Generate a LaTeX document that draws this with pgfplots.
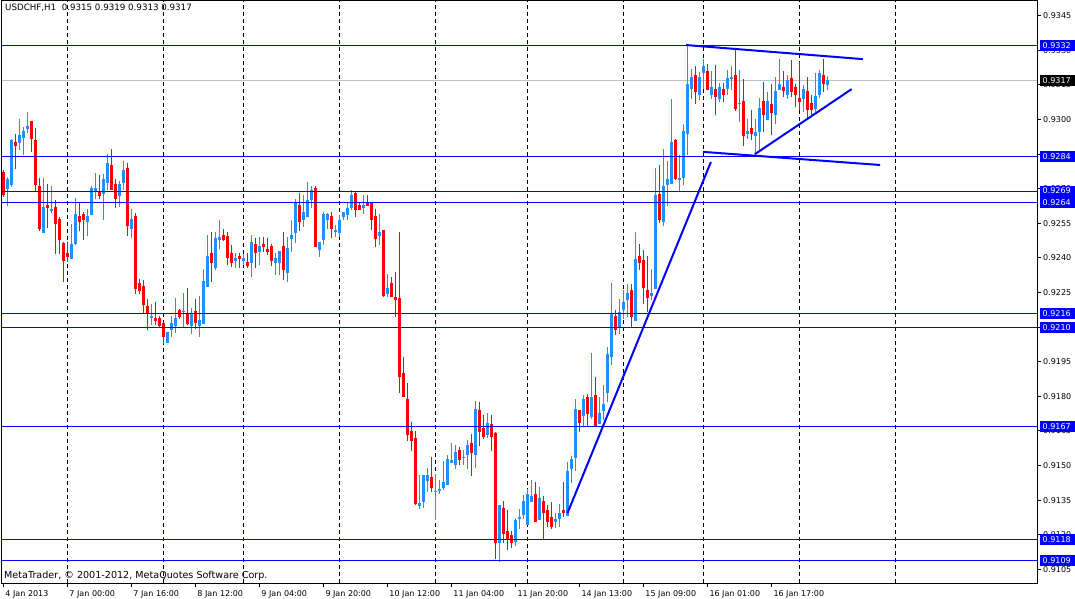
\documentclass[border=0pt]{standalone}
\usepackage{fontspec}
\setmainfont{DejaVu Sans}
\usepackage{pgfplots}
\usepackage{pgfplotstable}
\pgfplotsset{compat=1.18}
\definecolor{bullc}{RGB}{30,144,255}
\definecolor{bearc}{RGB}{255,0,0}
\definecolor{linec}{RGB}{0,0,255}
\definecolor{bidc}{RGB}{192,192,192}

\pgfplotstableread{
x o h l c
1 0.92699 0.92752 0.92625 0.92742
2 0.92716 0.92918 0.92709 0.92911
4 0.92899 0.93002 0.92868 0.92933
5 0.92918 0.92969 0.92846 0.92950
6 0.92959 0.93031 0.92940 0.92972
10 0.92509 0.92749 0.92509 0.92621
12 0.92609 0.92712 0.92598 0.92613
17 0.92395 0.92550 0.92395 0.92460
18 0.92463 0.92660 0.92456 0.92590
21 0.92557 0.92612 0.92495 0.92583
22 0.92586 0.92712 0.92586 0.92703
23 0.92687 0.92772 0.92655 0.92703
25 0.92677 0.92764 0.92564 0.92742
26 0.92726 0.92850 0.92697 0.92813
29 0.92668 0.92735 0.92622 0.92720
30 0.92726 0.92820 0.92697 0.92781
32 0.92528 0.92612 0.92488 0.92569
37 0.92145 0.92200 0.92113 0.92149
41 0.92034 0.92080 0.92030 0.92080
42 0.92087 0.92148 0.92058 0.92118
43 0.92105 0.92226 0.92073 0.92140
45 0.92167 0.92248 0.92102 0.92171
47 0.92105 0.92182 0.92069 0.92160
49 0.92105 0.92236 0.92058 0.92131
50 0.92113 0.92352 0.92112 0.92300
51 0.92275 0.92499 0.92275 0.92408
53 0.92358 0.92512 0.92348 0.92489
54 0.92478 0.92567 0.92439 0.92492
58 0.92387 0.92423 0.92358 0.92401
60 0.92387 0.92420 0.92369 0.92401
62 0.92379 0.92499 0.92319 0.92470
64 0.92424 0.92489 0.92369 0.92452
68 0.92378 0.92423 0.92326 0.92400
69 0.92379 0.92430 0.92329 0.92430
71 0.92336 0.92492 0.92297 0.92442
72 0.92485 0.92564 0.92427 0.92499
73 0.92507 0.92658 0.92466 0.92644
75 0.92564 0.92673 0.92535 0.92600
76 0.92579 0.92728 0.92579 0.92651
77 0.92654 0.92713 0.92615 0.92694
79 0.92434 0.92470 0.92405 0.92470
80 0.92478 0.92600 0.92456 0.92593
81 0.92564 0.92596 0.92528 0.92593
83 0.92517 0.92543 0.92492 0.92521
84 0.92509 0.92586 0.92492 0.92567
85 0.92579 0.92600 0.92564 0.92600
86 0.92586 0.92637 0.92564 0.92615
87 0.92618 0.92694 0.92608 0.92673
90 0.92618 0.92673 0.92593 0.92632
94 0.92496 0.92593 0.92456 0.92514
96 0.92244 0.92330 0.92232 0.92271
104 0.91326 0.91459 0.91312 0.91339
105 0.91343 0.91459 0.91315 0.91459
106 0.91434 0.91492 0.91386 0.91459
108 0.91386 0.91466 0.91264 0.91391
109 0.91394 0.91440 0.91377 0.91399
110 0.91404 0.91521 0.91394 0.91429
111 0.91416 0.91549 0.91416 0.91528
112 0.91514 0.91596 0.91510 0.91524
113 0.91502 0.91589 0.91488 0.91560
115 0.91534 0.91567 0.91502 0.91538
116 0.91546 0.91611 0.91488 0.91589
118 0.91546 0.91781 0.91488 0.91748
121 0.91632 0.91726 0.91618 0.91687
124 0.91165 0.91329 0.91085 0.91329
128 0.91170 0.91271 0.91151 0.91267
129 0.91271 0.91315 0.91228 0.91276
130 0.91285 0.91375 0.91271 0.91346
131 0.91242 0.91397 0.91242 0.91377
132 0.91343 0.91437 0.91343 0.91368
134 0.91264 0.91408 0.91264 0.91360
138 0.91256 0.91293 0.91228 0.91267
139 0.91271 0.91332 0.91235 0.91297
141 0.91285 0.91517 0.91285 0.91478
142 0.91488 0.91541 0.91425 0.91528
143 0.91536 0.91787 0.91478 0.91748
145 0.91715 0.91806 0.91668 0.91788
147 0.91712 0.91986 0.91700 0.91798
149 0.91683 0.91798 0.91680 0.91729
150 0.91738 0.91849 0.91697 0.91770
151 0.91813 0.92012 0.91777 0.91986
152 0.91972 0.92293 0.91936 0.92160
154 0.92102 0.92221 0.92073 0.92167
155 0.92174 0.92261 0.92138 0.92208
156 0.92218 0.92290 0.92145 0.92247
158 0.92128 0.92514 0.92128 0.92398
162 0.92235 0.92351 0.92218 0.92247
163 0.92268 0.92788 0.92268 0.92673
165 0.92557 0.92875 0.92538 0.92712
166 0.92716 0.92821 0.92626 0.92741
167 0.92723 0.93092 0.92723 0.92904
169 0.92741 0.92846 0.92687 0.92745
170 0.92749 0.92983 0.92716 0.92950
171 0.92937 0.93323 0.92846 0.93153
172 0.93135 0.93222 0.93092 0.93186
174 0.93106 0.93207 0.93085 0.93186
175 0.93200 0.93265 0.93135 0.93232
177 0.93106 0.93210 0.93089 0.93142
179 0.93089 0.93157 0.93077 0.93142
181 0.93135 0.93215 0.93106 0.93179
182 0.93181 0.93232 0.93128 0.93186
184 0.93068 0.93215 0.92990 0.93073
186 0.92936 0.93005 0.92918 0.92950
188 0.92930 0.93005 0.92853 0.92944
189 0.92947 0.93092 0.92868 0.93049
191 0.92998 0.93120 0.92998 0.93080
193 0.93020 0.93186 0.92983 0.93124
194 0.93128 0.93262 0.93128 0.93153
196 0.93106 0.93196 0.93092 0.93171
200 0.93089 0.93150 0.93034 0.93132
203 0.93045 0.93200 0.93034 0.93102
204 0.93106 0.93215 0.93092 0.93203
206 0.93150 0.93190 0.93130 0.93170
}\bulltab

\pgfplotstableread{
x o h l c
0 0.92774 0.92781 0.92665 0.92673
3 0.92904 0.92940 0.92785 0.92886
7 0.92993 0.92993 0.92860 0.92918
8 0.92911 0.92962 0.92687 0.92716
9 0.92712 0.92749 0.92518 0.92525
11 0.92629 0.92720 0.92528 0.92618
13 0.92621 0.92651 0.92417 0.92547
14 0.92569 0.92580 0.92417 0.92479
15 0.92468 0.92470 0.92297 0.92388
16 0.92421 0.92468 0.92384 0.92404
19 0.92583 0.92642 0.92517 0.92557
20 0.92590 0.92600 0.92478 0.92564
24 0.92691 0.92759 0.92654 0.92670
27 0.92803 0.92872 0.92697 0.92697
28 0.92720 0.92742 0.92618 0.92655
31 0.92788 0.92810 0.92496 0.92540
33 0.92582 0.92595 0.92244 0.92265
34 0.92291 0.92309 0.92244 0.92257
35 0.92278 0.92304 0.92160 0.92196
36 0.92192 0.92222 0.92087 0.92164
38 0.92140 0.92208 0.92109 0.92126
39 0.92140 0.92148 0.92102 0.92106
40 0.92118 0.92123 0.92027 0.92058
44 0.92178 0.92178 0.92138 0.92145
46 0.92160 0.92270 0.92109 0.92113
48 0.92170 0.92221 0.92095 0.92117
52 0.92420 0.92514 0.92297 0.92377
55 0.92499 0.92528 0.92475 0.92478
56 0.92496 0.92511 0.92369 0.92403
57 0.92421 0.92456 0.92362 0.92379
59 0.92410 0.92423 0.92359 0.92397
61 0.92382 0.92423 0.92359 0.92366
63 0.92460 0.92488 0.92359 0.92420
65 0.92460 0.92492 0.92427 0.92449
66 0.92439 0.92489 0.92416 0.92426
67 0.92452 0.92460 0.92366 0.92388
70 0.92452 0.92514 0.92304 0.92348
74 0.92629 0.92680 0.92517 0.92557
78 0.92704 0.92713 0.92449 0.92449
82 0.92582 0.92600 0.92485 0.92528
88 0.92684 0.92691 0.92579 0.92608
89 0.92629 0.92641 0.92608 0.92608
91 0.92644 0.92673 0.92625 0.92625
92 0.92641 0.92644 0.92521 0.92564
93 0.92582 0.92615 0.92449 0.92485
95 0.92521 0.92521 0.92232 0.92235
97 0.92293 0.92319 0.92232 0.92232
98 0.92232 0.92340 0.92145 0.92218
99 0.92229 0.92514 0.91816 0.91885
100 0.91902 0.91972 0.91796 0.91796
101 0.91788 0.91859 0.91608 0.91632
102 0.91651 0.91690 0.91564 0.91608
103 0.91621 0.91650 0.91329 0.91333
107 0.91449 0.91538 0.91386 0.91404
114 0.91567 0.91579 0.91502 0.91524
117 0.91596 0.91637 0.91456 0.91556
119 0.91741 0.91774 0.91585 0.91647
120 0.91661 0.91719 0.91618 0.91625
122 0.91679 0.91719 0.91564 0.91625
123 0.91640 0.91647 0.91095 0.91165
125 0.91317 0.91346 0.91163 0.91203
126 0.91217 0.91307 0.91134 0.91180
127 0.91199 0.91217 0.91141 0.91165
133 0.91377 0.91430 0.91256 0.91256
135 0.91346 0.91368 0.91177 0.91295
136 0.91307 0.91329 0.91235 0.91256
137 0.91278 0.91343 0.91224 0.91235
140 0.91307 0.91430 0.91278 0.91295
144 0.91741 0.91741 0.91647 0.91686
146 0.91798 0.91810 0.91668 0.91723
148 0.91809 0.91885 0.91668 0.91673
153 0.92148 0.92177 0.92066 0.92087
157 0.92261 0.92290 0.92102 0.92145
159 0.92408 0.92460 0.92348 0.92379
160 0.92391 0.92437 0.92203 0.92268
161 0.92261 0.92408 0.92167 0.92227
164 0.92680 0.92803 0.92553 0.92564
168 0.92911 0.92918 0.92738 0.92745
173 0.93193 0.93232 0.93067 0.93120
176 0.93210 0.93244 0.93128 0.93128
178 0.93132 0.93239 0.93020 0.93099
180 0.93135 0.93157 0.93077 0.93106
183 0.93193 0.93301 0.93037 0.93045
185 0.93080 0.93179 0.92886 0.92930
187 0.92962 0.93041 0.92911 0.92936
190 0.93080 0.93164 0.92947 0.93022
192 0.93070 0.93153 0.92933 0.93031
195 0.93142 0.93210 0.93099 0.93124
197 0.93183 0.93258 0.93099 0.93120
198 0.93140 0.93153 0.93055 0.93106
199 0.93094 0.93251 0.93041 0.93077
201 0.93124 0.93186 0.93005 0.93045
202 0.93073 0.93109 0.93012 0.93041
205 0.93193 0.93262 0.93120 0.93155
}\beartab

\tikzset{pricebox/.style={fill=#1, text=white, anchor=west, inner xsep=2.5pt, inner ysep=0pt,
  minimum height=11pt, text width=30pt, font=\fontsize{8}{9}\selectfont}}
\pgfplotsset{
  candle/.style n args={2}{draw=none, mark=none, forget plot,
    error bars/.cd, y dir=both, y explicit, error mark=none,
    error bar style={line width=#2, draw=#1, solid}}
}

\begin{document}
\begin{tikzpicture}
\useasboundingbox (0,0) rectangle (1075pt,599pt);
\fill[white] (0,0) rectangle (1075pt,599pt);
\begin{axis}[
  at={(2pt,16pt)}, anchor=south west,
  scale only axis, width=1035pt, height=582pt,
  xmin=-0.325, xmax=258.425, ymin=0.90991, ymax=0.93514,
  axis line style={line width=1pt, black},
  xtick pos=bottom, ytick pos=right, yticklabel pos=right,
  tick align=outside, major tick length=4pt,
  tick style={line width=1pt, black},
  xtick={0,16,...,192},
  xticklabels={4 Jan 2013,7 Jan 00:00,7 Jan 16:00,8 Jan 12:00,9 Jan 04:00,9 Jan 20:00,10 Jan 12:00,11 Jan 04:00,11 Jan 20:00,14 Jan 13:00,15 Jan 09:00,16 Jan 01:00,16 Jan 17:00},
  x tick label style={anchor=north west, font=\fontsize{8}{9}\selectfont, inner xsep=2pt},
  ytick={0.9105,0.9120,0.9135,0.9150,0.9165,0.9180,0.9195,0.9210,0.9225,0.9240,0.9255,0.9270,0.9285,0.9300,0.9315,0.9330,0.9345},
  y tick label style={anchor=west, font=\fontsize{8}{9}\selectfont, inner xsep=2pt,
    /pgf/number format/.cd, fixed, fixed zerofill, precision=4, assume math mode=true},
  scaled y ticks=false,
  extra x ticks={16,40,60,84,108,131,155,175,199,223},
  extra x tick labels={},
  extra x tick style={major tick length=0pt, grid=major,
    major grid style={black, line width=1pt, dash pattern=on 4pt off 3pt}},
  clip=true,
]
% bid line
\addplot[bidc, line width=1pt, forget plot] coordinates {(-1,0.9317) (260,0.9317)};

% wicks
\addplot[candle={bullc}{1pt}]
  table[x=x, y expr={(\thisrow{h}+\thisrow{l})/2}, y error expr={(\thisrow{h}-\thisrow{l})/2}] {\bulltab};
\addplot[candle={bearc}{1pt}]
  table[x=x, y expr={(\thisrow{h}+\thisrow{l})/2}, y error expr={(\thisrow{h}-\thisrow{l})/2}] {\beartab};
% bodies
\addplot[candle={bullc}{3pt}]
  table[x=x, y expr={(\thisrow{o}+\thisrow{c})/2}, y error expr={max(abs(\thisrow{c}-\thisrow{o})/2,0.000022)}] {\bulltab};
\addplot[candle={bearc}{3pt}]
  table[x=x, y expr={(\thisrow{o}+\thisrow{c})/2}, y error expr={max(abs(\thisrow{c}-\thisrow{o})/2,0.000022)}] {\beartab};

% horizontal levels
\foreach \p in {0.9332,0.9284,0.9269,0.9264,0.9216,0.9210,0.9167,0.9118,0.9109}{
  \edef\temp{\noexpand\addplot[linec, line width=1pt, forget plot] coordinates {(-1,\p) (260,\p)};}
  \temp
}

% trend lines
\addplot[linec, line width=2pt, forget plot] coordinates {(170.7,0.93323) (214.9,0.93262)};
\addplot[linec, line width=2pt, forget plot] coordinates {(187.9,0.92850) (212.1,0.93132)};
\addplot[linec, line width=2pt, forget plot] coordinates {(174.9,0.92860) (219.2,0.92803)};
\addplot[linec, line width=2pt, forget plot] coordinates {(141.05,0.91294) (176.9,0.92816)};

\coordinate (c9332) at (axis cs:0,0.9332);
\coordinate (c9317) at (axis cs:0,0.9317);
\coordinate (c9284) at (axis cs:0,0.9284);
\coordinate (c9269) at (axis cs:0,0.9269);
\coordinate (c9264) at (axis cs:0,0.9264);
\coordinate (c9216) at (axis cs:0,0.9216);
\coordinate (c9210) at (axis cs:0,0.9210);
\coordinate (c9167) at (axis cs:0,0.9167);
\coordinate (c9118) at (axis cs:0,0.9118);
\coordinate (c9109) at (axis cs:0,0.9109);
\end{axis}
\coordinate (bx) at (1040pt,0);
\node[pricebox=linec] at (c9332 -| bx) {0.9332};
\node[pricebox=black] at (c9317 -| bx) {0.9317};
\node[pricebox=linec] at (c9284 -| bx) {0.9284};
\node[pricebox=linec] at (c9269 -| bx) {0.9269};
\node[pricebox=linec] at (c9264 -| bx) {0.9264};
\node[pricebox=linec] at (c9216 -| bx) {0.9216};
\node[pricebox=linec] at (c9210 -| bx) {0.9210};
\node[pricebox=linec] at (c9167 -| bx) {0.9167};
\node[pricebox=linec] at (c9118 -| bx) {0.9118};
\node[pricebox=linec] at (c9109 -| bx) {0.9109};
\node[anchor=base west, inner sep=0pt, font=\fontsize{8.7}{10}\selectfont] at (5pt,588pt) {USDCHF,H1\ \ 0.9315 0.9319 0.9313 0.9317};
\node[anchor=base west, inner sep=0pt, font=\fontsize{9.6}{11}\selectfont] at (4pt,20pt) {MetaTrader, © 2001-2012, MetaQuotes Software Corp.};
\end{tikzpicture}
\end{document}
